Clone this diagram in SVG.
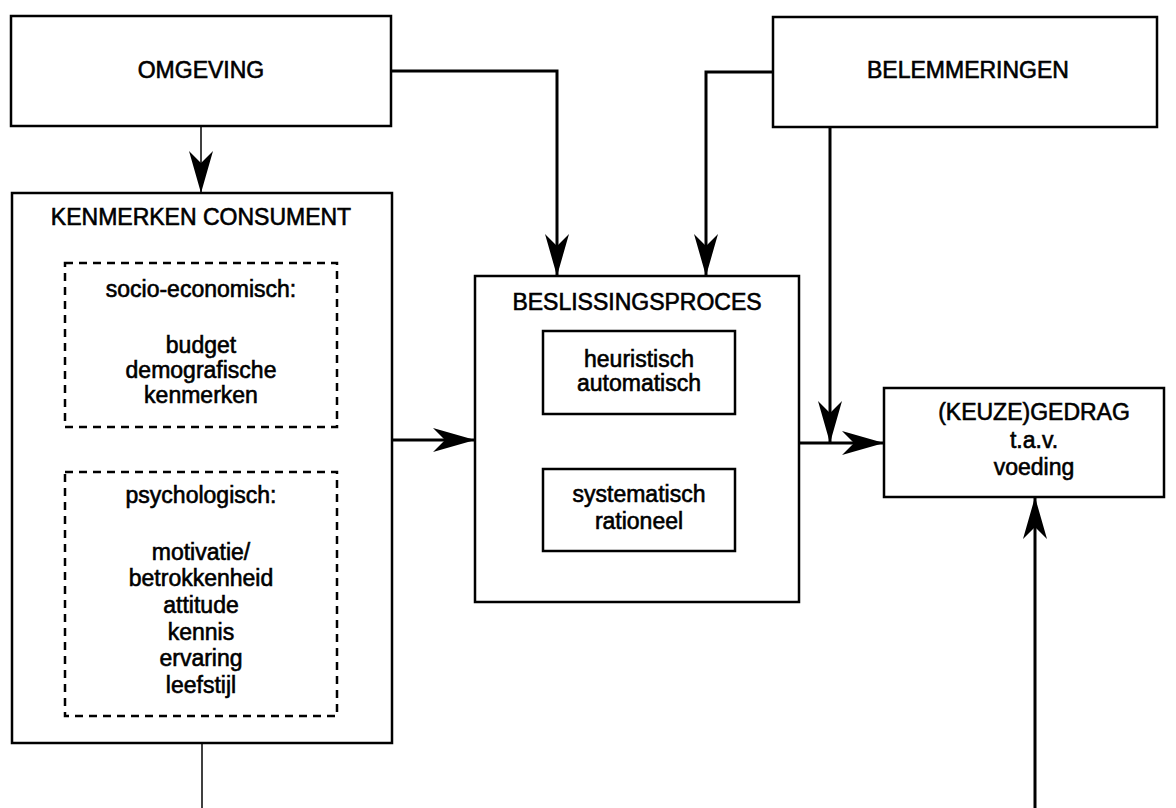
<svg xmlns="http://www.w3.org/2000/svg" width="1176" height="808" viewBox="0 0 1176 808">
<style>
  .box { fill: #fff; stroke: #000; stroke-width: 2.5; }
  .dash { fill: none; stroke: #000; stroke-width: 2.5; stroke-dasharray: 8 6; }
  .t { font-family: "Liberation Sans", Arial, sans-serif; font-size: 23px; fill: #000; stroke: #000; stroke-width: 0.6; text-anchor: middle; }
  .c { fill: none; stroke: #000; stroke-width: 3; }
  .thin { stroke-width: 1.5; }
</style>
<defs>
  <marker id="ah" markerUnits="userSpaceOnUse" markerWidth="44" markerHeight="28" viewBox="-42 -14 44 28" refX="0" refY="0" orient="auto">
    <path d="M0,0 L-42,-12 L-30,0 L-42,12 Z" fill="#000"/>
  </marker>
</defs>
<rect width="1176" height="808" fill="#fff"/>

<g id="connectors">
  <path class="c thin" d="M201,126 V193" marker-end="url(#ah)"/>
  <path class="c" d="M391,71 H557 V276" marker-end="url(#ah)"/>
  <path class="c" d="M773,72 H706 V276" marker-end="url(#ah)"/>
  <path class="c" d="M830,127 V443" marker-end="url(#ah)"/>
  <path class="c" d="M799,443 H884" marker-end="url(#ah)"/>
  <path class="c" d="M392,440 H475" marker-end="url(#ah)"/>
  <path class="c thin" d="M202,743 V808"/>
  <path class="c" d="M1035,808 V497" marker-end="url(#ah)"/>
</g>

<g id="omgeving">
  <rect class="box" x="11" y="16" width="380" height="110"/>
  <text class="t" x="201" y="78">OMGEVING</text>
</g>

<g id="belemmeringen">
  <rect class="box" x="773" y="17" width="384" height="110"/>
  <text class="t" x="968" y="78">BELEMMERINGEN</text>
</g>

<g id="kenmerken">
  <rect class="box" x="12" y="193" width="380" height="550"/>
  <text class="t" x="201" y="225">KENMERKEN CONSUMENT</text>
  <g id="socio">
    <rect class="dash" x="65" y="263" width="272" height="164"/>
    <text class="t" x="201" y="297">socio-economisch:</text>
    <text class="t" x="201" y="353">budget</text>
    <text class="t" x="201" y="378">demografische</text>
    <text class="t" x="201" y="403">kenmerken</text>
  </g>
  <g id="psycho">
    <rect class="dash" x="65" y="472" width="272" height="244"/>
    <text class="t" x="201" y="503">psychologisch:</text>
    <text class="t" x="201" y="560">motivatie/</text>
    <text class="t" x="201" y="586">betrokkenheid</text>
    <text class="t" x="201" y="613">attitude</text>
    <text class="t" x="201" y="640">kennis</text>
    <text class="t" x="201" y="666">ervaring</text>
    <text class="t" x="201" y="693">leefstijl</text>
  </g>
</g>

<g id="beslissingsproces">
  <rect class="box" x="475" y="276" width="324" height="326"/>
  <text class="t" x="637" y="310">BESLISSINGSPROCES</text>
  <g id="heuristisch">
    <rect class="box" x="543" y="331" width="192" height="83"/>
    <text class="t" x="639" y="367">heuristisch</text>
    <text class="t" x="639" y="391">automatisch</text>
  </g>
  <g id="systematisch">
    <rect class="box" x="543" y="469" width="192" height="82"/>
    <text class="t" x="639" y="502">systematisch</text>
    <text class="t" x="639" y="529">rationeel</text>
  </g>
</g>

<g id="gedrag">
  <rect class="box" x="884" y="388" width="280" height="109"/>
  <text class="t" x="1034" y="420">(KEUZE)GEDRAG</text>
  <text class="t" x="1034" y="448">t.a.v.</text>
  <text class="t" x="1034" y="475">voeding</text>
</g>
</svg>
